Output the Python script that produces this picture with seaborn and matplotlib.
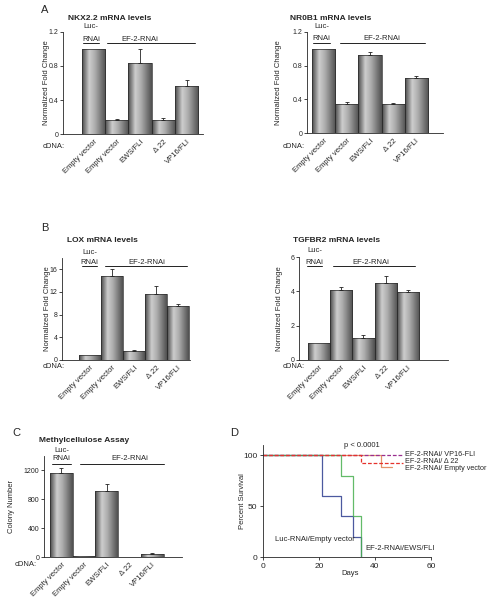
import numpy as np
import pandas as pd
import seaborn as sns
import matplotlib
matplotlib.use("Agg")
import matplotlib.pyplot as plt
import matplotlib.transforms as mtransforms
from matplotlib.colors import LinearSegmentedColormap
from matplotlib.patches import Rectangle

# ---- data ----
rnai = ["Luc-RNAi", "EF-2-RNAi", "EF-2-RNAi", "EF-2-RNAi", "EF-2-RNAi"]
cdna = ["Empty vector", "Empty vector", "EWS/FLI", "Δ 22", "VP16/FLI"]

nkx22 = [1.00, 0.16, 0.84, 0.17, 0.57]
nkx22_err = [0.0, 0.02, 0.16, 0.02, 0.06]
nr0b1 = [1.00, 0.35, 0.93, 0.35, 0.65]
nr0b1_err = [0.0, 0.02, 0.035, 0.006, 0.025]
lox = [0.85, 14.9, 1.65, 11.6, 9.5]
lox_err = [0.0, 1.1, 0.1, 1.4, 0.4]
tgfbr2 = [1.0, 4.05, 1.28, 4.5, 3.97]
tgfbr2_err = [0.0, 0.22, 0.2, 0.4, 0.12]
colonies = [1168, 12, 921, 0, 46]
colonies_err = [60, 0, 85, 0, 12]

# Kaplan-Meier steps (day, percent survival)
km_groups = ["Luc-RNAi/Empty vector", "EF-2-RNAi/EWS/FLI", "EF-2-RNAi/ VP16-FLI",
             "EF-2-RNAi/ Δ 22", "EF-2-RNAi/ Empty vector"]
km_days = [[0, 21, 28, 32, 35], [0, 28, 32, 35], [0, 50], [0, 35, 50], [0, 42, 46]]
km_surv = [[100, 60, 40, 20, 0], [100, 80, 40, 0], [100, 100], [100, 92, 92], [100, 88, 88]]
km_colors = ["#2d3c8e", "#48b04f", "#9a2e8f", "#e5322c", "#e0804f"]
km_dash = [False, False, True, True, False]
km_order = [4, 0, 1, 2, 3]  # drawing order

# ---- style ----
sns.set_style("ticks")
plt.rcParams["font.family"] = ["Liberation Sans", "DejaVu Sans"]
plt.rcParams["axes.linewidth"] = 0.6
FS = 5.5
TFS = 5.0

W, H = 492, 600
fig = plt.figure(figsize=(W / 100, H / 100), dpi=100)


def px_axes(l, t, r, b):
    return fig.add_axes([l / W, 1 - b / H, (r - l) / W, (b - t) / H])


def ftext(x, y, s, **kw):
    kw.setdefault("fontsize", FS)
    kw.setdefault("va", "center")
    fig.text(x / W, 1 - y / H, s, **kw)


cmap = LinearSegmentedColormap.from_list(
    "cyl", [(0, "#4a4a4a"), (0.3, "#cdcdcd"), (0.55, "#acacac"), (1, "#505050")])
grad = np.linspace(0, 1, 64).reshape(1, -1)
keys = [f"{r}|{c}|{i}" for i, (r, c) in enumerate(zip(rnai, cdna))]


def bar_panel(box, vals, errs, xlim, ylim, yticks, ylabels, ylabel, ylab_px,
              title, title_xy, cdna_xy, luc_span, ef_span, ef_x, ys):
    ax = px_axes(*box)
    df = pd.DataFrame({"key": keys, "value": vals})
    sns.barplot(data=df, x="key", y="value", order=keys, width=1.0,
                color="#999999", errorbar=None, ax=ax, zorder=2)
    for p in list(ax.patches):
        x0, y0, w, h = p.get_x(), p.get_y(), p.get_width(), p.get_height()
        if h <= 0:
            continue
        im = ax.imshow(grad, cmap=cmap, extent=[x0, x0 + w, y0, y0 + h],
                       aspect="auto", zorder=2.5, interpolation="bilinear")
        im.set_clip_path(p)
        ax.add_patch(Rectangle((x0, y0), w, h, fill=False, lw=0.5,
                               ec="#2a2a2a", zorder=3))
    pos = np.arange(len(vals))
    e = np.array(errs, dtype=float)
    m = e > 0
    ax.errorbar(pos[m], np.array(vals)[m], yerr=[np.zeros(m.sum()), e[m]],
                fmt="none", ecolor="#222222", elinewidth=0.6, capsize=1.2,
                capthick=0.6, zorder=4)
    ax.set_xlim(*xlim)
    ax.set_ylim(*ylim)
    ax.set_yticks(yticks)
    ax.set_yticklabels(ylabels)
    ax.set_xticks(pos)
    ax.set_xticklabels(cdna, rotation=45, ha="right", va="top",
                       rotation_mode="anchor")
    ax.tick_params(axis="x", length=0, pad=3, labelsize=FS)
    ax.tick_params(axis="y", length=2, width=0.6, pad=1.2, labelsize=TFS)
    ax.set_xlabel("")
    ax.set_ylabel(ylabel, fontsize=FS)
    l, t, r, b = box
    ax.yaxis.set_label_coords((ylab_px - l) / (r - l), 0.5)
    sns.despine(ax=ax)
    ftext(*title_xy, title, fontsize=6, weight="bold")
    ftext(*cdna_xy, "cDNA:")
    tr = mtransforms.blended_transform_factory(ax.transData, ax.transAxes)
    y_luc, y_rnai, y_line = ys
    luc_c = (luc_span[0] + luc_span[1]) / 2
    ax.text(luc_c, y_luc, "Luc-", transform=tr, fontsize=FS, ha="center",
            va="center", clip_on=False)
    ax.text(luc_c, y_rnai, "RNAi", transform=tr, fontsize=FS, ha="center",
            va="center", clip_on=False)
    ax.text(ef_x, y_rnai, "EF-2-RNAi", transform=tr, fontsize=FS,
            ha="center", va="center", clip_on=False)
    for span in (luc_span, ef_span):
        ax.plot(span, [y_line, y_line], transform=tr, color="#222222",
                lw=0.7, clip_on=False)
    return ax


# ---- A ----
bar_panel((63, 32, 203, 134), nkx22, nkx22_err, (-1.3, 4.7), (0, 1.2),
          [0, 0.4, 0.8, 1.2], ["0", "0.4", "0.8", "1.2"],
          "Normalized Fold Change", 50, "NKX2.2 mRNA levels", (68, 18),
          (43, 147), (-0.45, 0.25), (0.6, 4.35), 2.0, (1.05, 0.93, 0.89))
bar_panel((307, 32, 443, 133), nr0b1, nr0b1_err, (-0.72, 5.15), (0, 1.2),
          [0, 0.4, 0.8, 1.2], ["0", "0.4", "0.8", "1.2"],
          "Normalized Fold Change", 282, "NR0B1 mRNA levels", (290, 18),
          (283, 147), (-0.45, 0.27), (0.7, 4.37), 2.5, (1.05, 0.94, 0.89))
ftext(41, 10, "A", fontsize=8)

# ---- B ----
bar_panel((62, 258, 190, 360), lox, lox_err, (-1.27, 4.55), (0, 18),
          [0, 4, 8, 12, 16], ["0", "4", "8", "12", "16"],
          "Normalized Fold Change", 51, "LOX mRNA levels", (67, 241),
          (43, 367), (-0.36, 0.32), (0.68, 4.41), 2.6, (1.05, 0.96, 0.92))
bar_panel((299, 257, 448, 360), tgfbr2, tgfbr2_err, (-0.9, 5.8), (0, 6),
          [0, 2, 4, 6], ["0", "2", "4", "6"],
          "Normalized Fold Change", 283, "TGFBR2 mRNA levels", (293, 241),
          (283, 367), (-0.54, 0.13), (0.63, 4.32), 2.35, (1.06, 0.95, 0.91))
ftext(41, 228, "B", fontsize=8)

# ---- C ----
bar_panel((44, 456, 182, 557), colonies, colonies_err, (-0.76, 5.3), (0, 1400),
          [0, 400, 800, 1200], ["0", "400", "800", "1200"],
          "Colony Number", 15, "Methylcellulose Assay", (39, 440),
          (15, 564), (-0.41, 0.43), (0.82, 4.51), 3.0, (1.05, 0.98, 0.92))
ftext(12, 433, "C", fontsize=8)

# ---- D ----
axd = px_axes(263, 445, 431, 557)
for i in km_order:
    kdf = pd.DataFrame({"day": km_days[i], "surv": km_surv[i]})
    sns.lineplot(data=kdf, x="day", y="surv", estimator=None, ax=axd,
                 color=km_colors[i], lw=0.9, drawstyle="steps-post",
                 linestyle=(0, (3, 1.5)) if km_dash[i] else "-",
                 alpha=0.85 if not km_dash[i] else 1.0)
axd.set_xlim(0, 60)
axd.set_ylim(0, 110)
axd.set_xticks([0, 20, 40, 60])
axd.set_yticks([0, 50, 100])
axd.tick_params(length=2.5, width=0.6, pad=1.5, labelsize=6)
axd.set_xlabel("Days", fontsize=FS)
axd.set_ylabel("Percent Survival", fontsize=FS)
axd.yaxis.set_label_coords((246 - 263) / 168, 0.5)
axd.xaxis.set_label_coords(0.52, -0.12)
sns.despine(ax=axd)
axd.text(29, 110, "p < 0.0001", fontsize=FS, va="center")
axd.text(50.7, 101, km_groups[2], fontsize=5.2, va="center")
axd.text(50.7, 94, km_groups[3], fontsize=5.2, va="center")
axd.text(50.7, 87, km_groups[4], fontsize=5.2, va="center")
axd.text(4.3, 17.5, km_groups[0], fontsize=FS, va="center")
axd.text(36.4, 8.7, km_groups[1], fontsize=FS, va="center")
ftext(230, 433, "D", fontsize=8)

fig.savefig("out.png", dpi=100)
